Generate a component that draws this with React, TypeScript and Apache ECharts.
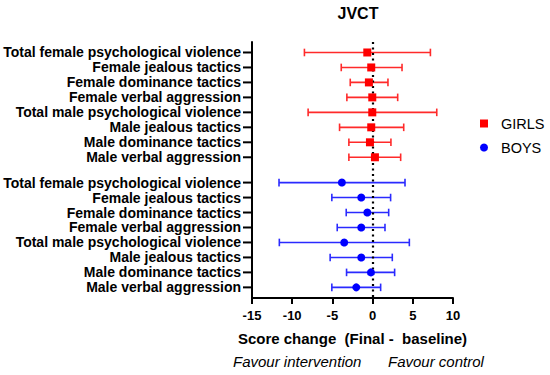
import React, { useEffect, useRef } from "react";
import * as echarts from "echarts";

const categories = [
  "Total female psychological violence",
  "Female jealous tactics",
  "Female dominance tactics",
  "Female verbal aggression",
  "Total male psychological violence",
  "Male jealous tactics",
  "Male dominance tactics",
  "Male verbal aggression",
];

const girlsMean = [-0.66, -0.17, -0.46, -0.04, -0.04, -0.17, -0.33, 0.29];
const girlsLow = [-8.48, -3.9, -2.78, -3.2, -8.02, -4.11, -2.95, -2.95];
const girlsHigh = [7.19, 3.66, 1.91, 3.12, 7.98, 3.87, 2.28, 3.49];

const boysMean = [-3.82, -1.41, -0.66, -1.41, -3.53, -1.41, -0.21, -2.03];
const boysLow = [-11.64, -5.07, -3.28, -4.4, -11.6, -5.28, -3.24, -5.07];
const boysHigh = [4.03, 2.24, 2.0, 1.54, 4.57, 2.45, 2.74, 1.0];

const xTicks = [-15, -10, -5, 0, 5, 10];

const GROUP_GAP = 1.69;
const FONT = "'Liberation Sans', Arial, Helvetica, sans-serif";

export default function App() {
  const ref = useRef<HTMLDivElement>(null);

  useEffect(() => {
    document.body.style.margin = "0";
    if (!ref.current) return;
    const chart = echarts.init(ref.current, null, { renderer: "svg" });

    const girlsPos = categories.map((_, i) => i);
    const boysPos = categories.map((_, i) => i + categories.length - 1 + GROUP_GAP);
    const xMin = xTicks[0];
    const xMax = xTicks[xTicks.length - 1];

    const labelData = [
      ...categories.map((c, i) => ({ value: [xMin, girlsPos[i]], name: c })),
      ...categories.map((c, i) => ({ value: [xMin, boysPos[i]], name: c })),
    ];

    const errRender = (color: string) => (params: any, api: any) => {
      const lo = api.coord([api.value(0), api.value(2)]);
      const hi = api.coord([api.value(1), api.value(2)]);
      const h = 3.8;
      const style = { stroke: color, lineWidth: 1.6 };
      return {
        type: "group",
        children: [
          { type: "line", shape: { x1: lo[0], y1: lo[1], x2: hi[0], y2: hi[1] }, style },
          { type: "line", shape: { x1: lo[0], y1: lo[1] - h, x2: lo[0], y2: lo[1] + h }, style },
          { type: "line", shape: { x1: hi[0], y1: hi[1] - h, x2: hi[0], y2: hi[1] + h }, style },
        ],
      };
    };

    const option: any = {
      animation: false,
      backgroundColor: "#ffffff",
      title: {
        text: "JVCT",
        left: 353,
        top: 0,
        textAlign: "center",
        textStyle: { fontFamily: FONT, fontSize: 16, fontWeight: "bold", color: "#000" },
      },
      legend: {
        orient: "vertical",
        left: 475,
        top: 111,
        itemWidth: 8,
        itemHeight: 8,
        itemGap: 9,
        data: [
          { name: "GIRLS", icon: "rect" },
          { name: "BOYS", icon: "circle" },
        ],
        textStyle: {
          fontFamily: FONT,
          fontSize: 14.5,
          color: "#000",
          padding: [0, 0, 0, 8],
        },
      },
      grid: { left: 252, right: 97, top: 42, bottom: 77 },
      xAxis: {
        type: "value",
        min: xMin,
        max: xMax,
        interval: 5,
        name: "Score change  (Final -  baseline)",
        nameLocation: "middle",
        nameGap: 33,
        nameTextStyle: { fontFamily: FONT, fontSize: 15, fontWeight: "bold", color: "#000" },
        axisLine: { show: true, onZero: false, lineStyle: { color: "#000", width: 2 } },
        axisTick: { show: true, length: 6, lineStyle: { color: "#000", width: 2 } },
        axisLabel: {
          margin: 11,
          fontFamily: FONT,
          fontSize: 13,
          fontWeight: "bold",
          color: "#000",
        },
        splitLine: { show: false },
      },
      yAxis: {
        type: "value",
        inverse: true,
        min: -0.7,
        max: 16.4,
        axisLine: { show: true, onZero: false, lineStyle: { color: "#000", width: 2 } },
        axisTick: { show: false },
        axisLabel: { show: false },
        splitLine: { show: false },
      },
      graphic: [
        {
          type: "text",
          left: 233,
          top: 354,
          style: { text: "Favour intervention", font: `italic 15px ${FONT}`, fill: "#000" },
        },
        {
          type: "text",
          left: 388,
          top: 354,
          style: { text: "Favour control", font: `italic 15px ${FONT}`, fill: "#000" },
        },
      ],
      series: [
        {
          type: "custom",
          name: "labels",
          silent: true,
          clip: false,
          data: labelData,
          renderItem: (params: any, api: any) => {
            const p = api.coord([api.value(0), api.value(1)]);
            const name = labelData[params.dataIndex].name;
            return {
              type: "group",
              children: [
                {
                  type: "line",
                  shape: { x1: p[0] - 9, y1: p[1], x2: p[0] - 1, y2: p[1] },
                  style: { stroke: "#000", lineWidth: 2 },
                },
                {
                  type: "text",
                  x: p[0] - 11,
                  y: p[1],
                  style: {
                    text: name,
                    textAlign: "right",
                    textVerticalAlign: "middle",
                    font: `bold 14px ${FONT}`,
                    fill: "#000",
                  },
                },
              ],
            };
          },
          markLine: {
            silent: true,
            symbol: "none",
            label: { show: false },
            lineStyle: { color: "#000", type: [2, 3.5], width: 2.2 },
            data: [{ xAxis: 0 }],
          },
        },
        {
          type: "custom",
          name: "girlsErr",
          silent: true,
          renderItem: errRender("#ff2a2a"),
          data: girlsLow.map((l, i) => [l, girlsHigh[i], girlsPos[i]]),
          z: 3,
        },
        {
          type: "custom",
          name: "boysErr",
          silent: true,
          renderItem: errRender("#2a2aff"),
          data: boysLow.map((l, i) => [l, boysHigh[i], boysPos[i]]),
          z: 3,
        },
        {
          type: "scatter",
          name: "GIRLS",
          symbol: "rect",
          symbolSize: 8,
          itemStyle: { color: "#ff0000", opacity: 1 },
          data: girlsMean.map((m, i) => [m, girlsPos[i]]),
          z: 5,
        },
        {
          type: "scatter",
          name: "BOYS",
          symbol: "circle",
          symbolSize: 8,
          itemStyle: { color: "#0000ff", opacity: 1 },
          data: boysMean.map((m, i) => [m, boysPos[i]]),
          z: 5,
        },
      ],
    };

    chart.setOption(option);
    return () => chart.dispose();
  }, []);

  return <div ref={ref} style={{ width: 550, height: 375 }} />;
}
